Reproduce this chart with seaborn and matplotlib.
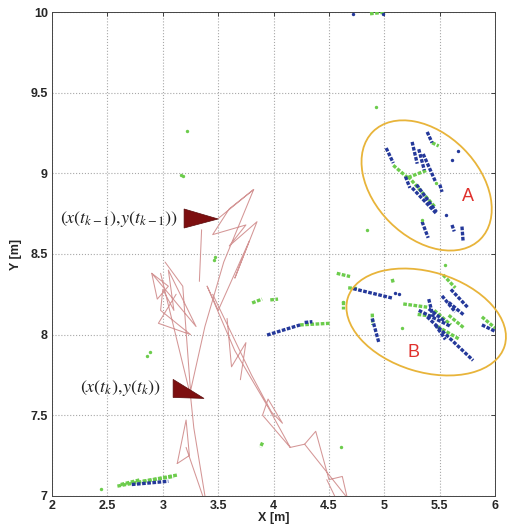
import numpy as np
import pandas as pd
import matplotlib
matplotlib.use("Agg")
import matplotlib.pyplot as plt
import seaborn as sns
from matplotlib.patches import Ellipse, Polygon
from matplotlib.transforms import ScaledTranslation

# ---------------- data ----------------
# green detections (streaks: x0, y0, x1, y1)
green_streaks = [
    (2.59, 7.06, 3.14, 7.13), (2.82, 7.09, 3.10, 7.12), (2.62, 7.07, 2.80, 7.10),
    (3.806, 8.196, 3.896, 8.22), (3.97, 8.215, 4.04, 8.22),
    (4.239, 8.06, 4.51, 8.07), (4.57, 8.38, 4.69, 8.36), (4.63, 8.21, 4.63, 8.16),
    (4.673, 8.29, 4.76, 8.285), (4.87, 9.99, 5.01, 10.0),
    (4.89, 8.13, 4.895, 8.06), (3.90, 7.33, 3.88, 7.30),
    (5.17, 8.19, 5.386, 8.17), (5.30, 8.125, 5.42, 8.115), (5.53, 8.37, 5.64, 8.29),
    (5.48, 8.05, 5.68, 7.97), (5.88, 8.11, 6.0, 8.04), (5.07, 8.345, 5.08, 8.32),
    (5.45, 8.15, 5.60, 8.06), (5.58, 8.12, 5.72, 8.04),
    (5.08, 9.05, 5.215, 8.97), (5.215, 8.98, 5.458, 8.79), (5.215, 8.975, 5.386, 9.02),
    (5.43, 9.19, 5.49, 9.17),
]
# blue detections (streaks: x0, y0, x1, y1)
blue_streaks = [
    (2.72, 7.07, 3.05, 7.09),
    (3.941, 7.997, 4.239, 8.06), (4.28, 8.075, 4.35, 8.08),
    (4.718, 8.285, 5.079, 8.225), (4.89, 8.10, 4.95, 7.95),
    (5.386, 8.11, 5.80, 7.84), (5.31, 8.15, 5.60, 8.05), (5.40, 8.22, 5.44, 8.11),
    (5.52, 8.24, 5.64, 8.14), (5.58, 8.20, 5.72, 8.12), (5.46, 8.06, 5.55, 7.97),
    (5.88, 8.06, 6.00, 8.02), (5.60, 8.28, 5.75, 8.17), (5.40, 8.16, 5.55, 8.08),
    (5.016, 9.157, 5.08, 9.064), (5.25, 9.195, 5.296, 9.06), (5.386, 9.257, 5.43, 9.19),
    (5.31, 9.15, 5.36, 9.02), (5.35, 9.12, 5.46, 8.95), (5.19, 8.98, 5.23, 8.91),
    (5.25, 8.91, 5.47, 8.75), (5.29, 8.93, 5.47, 8.76), (5.34, 8.70, 5.395, 8.60),
    (5.50, 8.93, 5.52, 8.885), (5.61, 8.68, 5.63, 8.64), (5.70, 8.67, 5.71, 8.58),
]
# isolated detections
green_dots_x = [2.44, 2.86, 2.88, 3.165, 3.18, 3.22, 3.47, 3.46, 4.61, 4.925, 4.845, 5.55, 5.16, 4.63, 5.34, 5.47]
green_dots_y = [7.04, 7.87, 7.89, 8.99, 8.985, 9.26, 8.48, 8.46, 7.30, 9.41, 8.65, 8.43, 8.04, 8.20, 8.71, 8.94]
blue_dots_x = [4.72, 4.99, 5.666, 5.61, 5.56, 5.10, 5.13]
blue_dots_y = [9.99, 9.99, 9.14, 9.08, 8.74, 8.26, 8.25]

# robot trajectory (sub-paths separated by NaN)
traj_x = [3.38, 3.28, 3.25, 2.98, np.nan,
          3.13, 3.21, 3.24, 3.13, np.nan, 3.21, 3.36, np.nan,
          3.25, 3.18, 3.02, np.nan, 3.25, 3.38, 3.55, 3.82, np.nan, 3.35, 3.33, np.nan,
          2.90, 3.05, 2.95, 2.90, 3.30, 3.05, 3.10, 3.00, 2.98, 3.25, 2.96, 3.12, np.nan,
          3.50, 3.82, 3.60, 3.45, 3.75, 3.60, 3.85, 3.65, 3.78, 3.50, 3.40, np.nan,
          3.40, 3.65, 3.95, 4.15, np.nan, 3.45, 3.80, 3.98, 4.08, 3.95, 3.90, 4.15, np.nan,
          3.58, 3.62, 3.75, 3.70, np.nan,
          4.15, 4.28, 4.38, 4.50, 4.62, 4.66, np.nan, 4.28, 4.65, np.nan, 4.48, 4.55]
traj_y = [7.00, 7.42, 7.62, 8.38, np.nan,
          7.20, 7.47, 7.25, 7.20, np.nan, 7.30, 7.00, np.nan,
          7.65, 8.30, 8.45, np.nan, 7.65, 8.05, 8.45, 8.90, np.nan, 8.65, 8.33, np.nan,
          8.38, 8.30, 8.22, 8.38, 8.05, 8.40, 8.15, 8.28, 8.15, 8.00, 8.07, 8.25, np.nan,
          8.72, 8.90, 8.78, 8.62, 8.68, 8.55, 8.70, 8.35, 8.58, 8.15, 8.30, np.nan,
          8.30, 7.90, 7.55, 7.30, np.nan, 8.25, 7.75, 7.52, 7.45, 7.60, 7.50, 7.30, np.nan,
          8.10, 7.80, 7.95, 7.72, np.nan,
          7.30, 7.32, 7.40, 7.10, 7.12, 7.00, np.nan, 7.32, 7.00, np.nan, 7.10, 7.00]

# robot poses (triangles)
pose_prev_x = [3.192, 3.192, 3.499]
pose_prev_y = [8.779, 8.661, 8.717]
pose_curr_x = [3.093, 3.093, 3.372]
pose_curr_y = [7.722, 7.610, 7.604]

x_ticks = [2, 2.5, 3, 3.5, 4, 4.5, 5, 5.5, 6]
y_ticks = [7, 7.5, 8, 8.5, 9, 9.5, 10]
x_tick_labels = ["2", "2.5", "3", "3.5", "4", "4.5", "5", "5.5", "6"]
y_tick_labels = ["7", "7.5", "8", "8.5", "9", "9.5", "10"]

# ---------------- style ----------------
sns.set_style("white")
plt.rcParams["font.family"] = ["Liberation Sans", "DejaVu Sans"]
plt.rcParams["mathtext.fontset"] = "stix"

fig = plt.figure(figsize=(5.1, 5.28), dpi=100)
ax = fig.add_axes([0.102, 0.061, 0.869, 0.916])

GREEN = "#6ccc4c"
BLUE = "#24389a"
TRAJ = "#d49696"

# trajectory
ax.plot(traj_x, traj_y, color=TRAJ, lw=0.75, zorder=2)

# streaks via seaborn
rows = []
for i, (x0, y0, x1, y1) in enumerate(green_streaks):
    rows += [("g%d" % i, "green", x0, y0), ("g%d" % i, "green", x1, y1)]
for i, (x0, y0, x1, y1) in enumerate(blue_streaks):
    rows += [("b%d" % i, "blue", x0, y0), ("b%d" % i, "blue", x1, y1)]
df = pd.DataFrame(rows, columns=["sid", "kind", "x", "y"])
sns.lineplot(data=df, x="x", y="y", units="sid", hue="kind", estimator=None, sort=False,
             palette={"green": GREEN, "blue": BLUE}, legend=False, lw=2.4,
             linestyle=(0, (1.1, 0.45)), ax=ax, zorder=3)

sns.scatterplot(x=green_dots_x, y=green_dots_y, color=GREEN, s=6, linewidth=0, ax=ax, zorder=3)
sns.scatterplot(x=blue_dots_x, y=blue_dots_y, color=BLUE, s=6, linewidth=0, ax=ax, zorder=3)

# poses
ax.add_patch(Polygon(list(zip(pose_prev_x, pose_prev_y)), closed=True, facecolor="#7d0f10",
                     edgecolor="#5a0a0a", lw=0.5, zorder=4))
ax.add_patch(Polygon(list(zip(pose_curr_x, pose_curr_y)), closed=True, facecolor="#7d0f10",
                     edgecolor="#5a0a0a", lw=0.5, zorder=4))

ax.text(3.14, 8.717, r"$(x(t_{k-1}),\!y(t_{k-1}))$", ha="right", va="center", fontsize=13,
        color="#222222", zorder=5)
ax.text(2.98, 7.668, r"$(x(t_k),\!y(t_k))$", ha="right", va="center", fontsize=13,
        color="#222222", zorder=5)

# ellipses
for (cx, cy, w, h, ang) in [(5.381, 8.925, 1.52, 1.04, -45), (5.377, 8.078, 1.64, 1.0, -17)]:
    e = Ellipse((0, 0), w, h, angle=ang, fill=False, edgecolor="#e8b43a", lw=1.3,
                transform=fig.dpi_scale_trans + ScaledTranslation(cx, cy, ax.transData),
                clip_on=False, zorder=5)
    ax.add_patch(e)

ax.text(5.756, 8.859, "A", color="#e0302c", fontsize=13, ha="center", va="center")
ax.text(5.26, 7.89, "B", color="#e0302c", fontsize=13, ha="center", va="center")

ax.set_xlim(2, 6)
ax.set_ylim(7, 10)
ax.set_xticks(x_ticks)
ax.set_xticklabels(x_tick_labels, fontweight="bold", fontsize=9)
ax.set_yticks(y_ticks)
ax.set_yticklabels(y_tick_labels, fontweight="bold", fontsize=9)
ax.tick_params(direction="in", length=3, width=0.6, pad=3, top=True, right=True)
ax.grid(True, color="#a8a8a8", ls=":", lw=0.8)
for sp in ax.spines.values():
    sp.set_visible(True)
    sp.set_color("#444444")
    sp.set_linewidth(0.7)
ax.set_xlabel("X [m]", fontweight="bold", fontsize=9, labelpad=0)
ax.set_ylabel("Y [m]", fontweight="bold", fontsize=9, labelpad=6)

fig.savefig("out.png", dpi=100)
